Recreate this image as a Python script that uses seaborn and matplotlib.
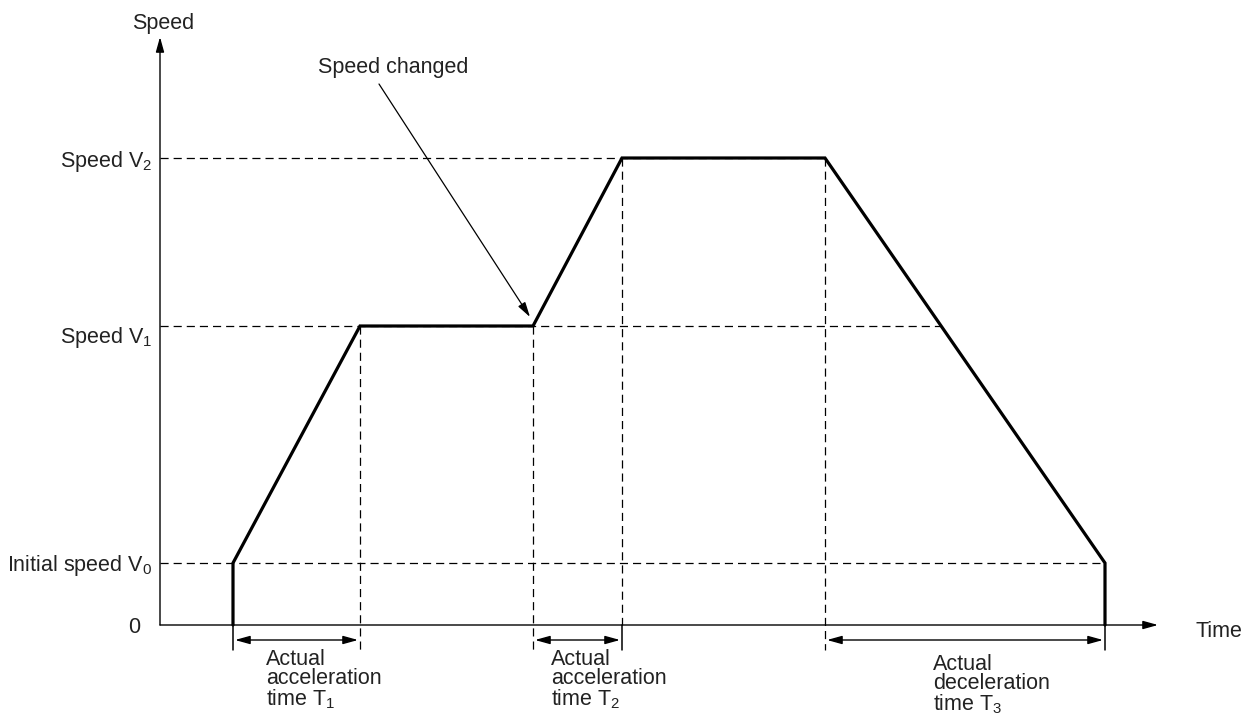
import pandas as pd
import matplotlib
matplotlib.use('Agg')
import matplotlib.pyplot as plt
import seaborn as sns

# speed levels and profile break points (time units along x, speed units along y)
v0, v1, v2 = 0.62, 2.99, 4.67
t_start, t_acc1_end, t_change, t_acc2_end, t_dec_start, t_stop = 0.73, 2.00, 3.73, 4.62, 6.65, 9.45

profile_t = [t_start, t_start, t_acc1_end, t_change, t_acc2_end, t_dec_start, t_stop, t_stop]
profile_v = [0, v0, v1, v1, v2, v2, v0, 0]

level_values = [v0, v1, v2]
level_labels = ['Initial speed V$_0$', 'Speed V$_1$', 'Speed V$_2$']
level_ends = [t_stop, 7.81, t_dec_start]  # where each dashed guide stops

intervals = [(t_start, t_acc1_end), (t_change, t_acc2_end), (t_dec_start, t_stop)]
interval_labels = ['Actual\nacceleration\ntime T$_1$',
                   'Actual\nacceleration\ntime T$_2$',
                   'Actual\ndeceleration\ntime T$_3$']

sns.set_theme(style='white')
plt.rcParams['font.family'] = ['Liberation Sans', 'DejaVu Sans']
plt.rcParams['mathtext.fontset'] = 'custom'
plt.rcParams['mathtext.rm'] = 'Liberation Sans'
plt.rcParams['mathtext.it'] = 'Liberation Sans'
plt.rcParams['mathtext.default'] = 'regular'

fig = plt.figure(figsize=(12.42, 7.17), dpi=100)
ax = fig.add_axes([0, 0, 1, 1])
ax.set_xlim(-1.60, 10.82)
ax.set_ylim(-0.92, 6.25)
ax.axis('off')

fs = 15.5
dash = (0, (6.5, 4))

# axes with arrows
ax.annotate('', xy=(0, 5.88), xytext=(0, 0),
            arrowprops=dict(arrowstyle='-|>,head_length=0.9,head_width=0.25', mutation_scale=10,
                            color='black', lw=1.0, shrinkA=0, shrinkB=0))
ax.annotate('', xy=(9.98, 0), xytext=(0, 0),
            arrowprops=dict(arrowstyle='-|>,head_length=0.9,head_width=0.25', mutation_scale=10,
                            color='black', lw=1.0, shrinkA=0, shrinkB=0))

# horizontal dashed guides
for val, end in zip(level_values, level_ends):
    ax.plot([0, end], [val, val], color='black', lw=0.9, linestyle=dash)

# vertical dashed guides
ax.plot([t_acc1_end, t_acc1_end], [v1, -0.25], color='black', lw=0.9, linestyle=dash)
ax.plot([t_change, t_change], [v1, -0.25], color='black', lw=0.9, linestyle=dash)
ax.plot([t_acc2_end, t_acc2_end], [v2, 0], color='black', lw=0.9, linestyle=dash)
ax.plot([t_dec_start, t_dec_start], [v2, -0.25], color='black', lw=0.9, linestyle=dash)

# solid extension ticks below axis
for t in [t_start, t_acc2_end, t_stop]:
    ax.plot([t, t], [0, -0.25], color='black', lw=1.1)

# speed profile
prof = pd.DataFrame({'time': profile_t, 'speed': profile_v})
sns.lineplot(data=prof, x='time', y='speed', sort=False, estimator=None,
             color='black', linewidth=2.3, ax=ax)
ax.lines[-1].set_solid_joinstyle('miter')
ax.set_xlabel('')
ax.set_ylabel('')

# dimension arrows
for (a, b), lab, top in zip(intervals, interval_labels, [-0.24, -0.24, -0.29]):
    ax.annotate('', xy=(b - 0.02, -0.15), xytext=(a + 0.02, -0.15),
                arrowprops=dict(arrowstyle='<|-|>,head_length=0.9,head_width=0.25', mutation_scale=10,
                                color='black', lw=1.0, shrinkA=0, shrinkB=0))

ax.text(1.06, -0.24, interval_labels[0], ha='left', va='top', fontsize=fs, linespacing=0.88, color='#222222')
ax.text(3.91, -0.24, interval_labels[1], ha='left', va='top', fontsize=fs, linespacing=0.88, color='#222222')
ax.text(7.73, -0.29, interval_labels[2], ha='left', va='top', fontsize=fs, linespacing=0.88, color='#222222')

# level labels
for val, lab, base in zip(level_values, level_labels, [0.54, 2.82, 4.58]):
    ax.text(-0.08, base, lab, ha='right', va='baseline', fontsize=fs, color='#222222')

ax.text(-0.20, -0.08, '0', ha='right', va='baseline', fontsize=fs, color='#222222')
ax.text(10.35, -0.12, 'Time', ha='left', va='baseline', fontsize=fs, color='#222222')
ax.text(0.03, 6.01, 'Speed', ha='center', va='center', fontsize=fs, color='#222222')

# speed changed callout
ax.text(1.58, 5.58, 'Speed changed', ha='left', va='center', fontsize=fs, color='#222222')
ax.annotate('', xy=(3.70, 3.08), xytext=(2.19, 5.41),
            arrowprops=dict(arrowstyle='-|>,head_length=0.9,head_width=0.25', mutation_scale=10,
                            color='black', lw=0.9, shrinkA=0, shrinkB=0))

plt.savefig('out.png', dpi=100)
